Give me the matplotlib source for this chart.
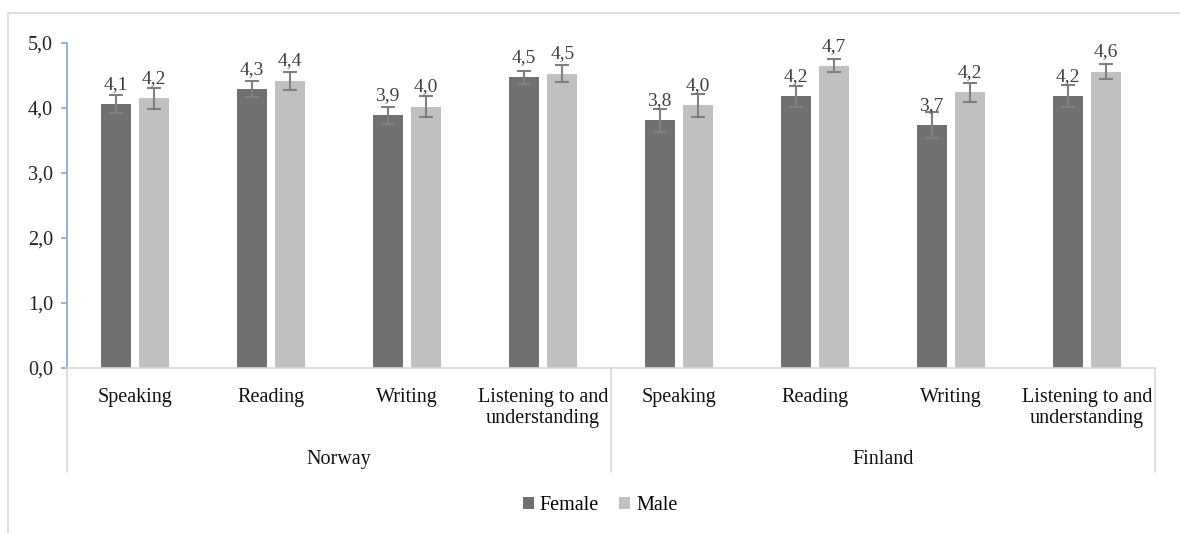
import matplotlib

matplotlib.use("Agg")
import matplotlib.pyplot as plt
from matplotlib.lines import Line2D
from matplotlib.patches import Patch, Rectangle
from matplotlib.ticker import FuncFormatter
import numpy as np

# Self-assessed skills by gender, two countries, four skills each.
countries = ["Norway", "Finland"]
skills = ["Speaking", "Reading", "Writing", "Listening to and\nunderstanding"]
female = [4.06, 4.29, 3.89, 4.47, 3.81, 4.18, 3.74, 4.18]
male = [4.15, 4.42, 4.02, 4.53, 4.04, 4.65, 4.24, 4.56]
female_err = [0.14, 0.12, 0.13, 0.10, 0.18, 0.16, 0.20, 0.17]
male_err = [0.16, 0.14, 0.16, 0.13, 0.18, 0.10, 0.15, 0.12]
series_labels = ["Female", "Male"]

FEMALE_COLOR = "#707070"
MALE_COLOR = "#c0c0c0"
ERR_COLOR = "#7f7f7f"
GRID_GREY = "#d9d9d9"
AXIS_BLUE = "#86acdc"
SERIF = ["Liberation Serif", "DejaVu Serif"]

plt.rcParams["font.family"] = SERIF

fig = plt.figure(figsize=(11.8, 5.33), dpi=100)
ax = fig.add_axes([67 / 1180, 1 - 368 / 533, (1155 - 67) / 1180, 325 / 533])

n_cat = len(countries) * len(skills)
x = np.arange(n_cat)
width = 0.22
offset = 0.142

err_kw = dict(ecolor=ERR_COLOR, elinewidth=1.5, capsize=4.7, capthick=1.5)
ax.bar(x - offset, female, width, color=FEMALE_COLOR, yerr=female_err,
       error_kw=err_kw, zorder=2)
ax.bar(x + offset, male, width, color=MALE_COLOR, yerr=male_err,
       error_kw=err_kw, zorder=2)

# data labels sit a fixed distance above the bar top (Excel "outside end")
for xs, vals in ((x - offset, female), (x + offset, male)):
    for xi, v in zip(xs, vals):
        ax.annotate(f"{v:.1f}".replace(".", ","), (xi, v), xytext=(0, 8),
                    textcoords="offset points", ha="center", va="bottom",
                    fontsize=14, color="#404040")

ax.set_xlim(-0.5, n_cat - 0.5)
ax.set_ylim(0, 5)
ax.set_yticks(np.arange(0, 6, 1))
ax.yaxis.set_major_formatter(FuncFormatter(lambda v, _: f"{v:.1f}".replace(".", ",")))
ax.tick_params(axis="y", direction="out", length=4, width=1.2, color=AXIS_BLUE,
               pad=6, labelsize=14.5, labelcolor="#222222")
ax.set_xticks([])

for side in ("top", "right"):
    ax.spines[side].set_visible(False)
ax.spines["left"].set_color(AXIS_BLUE)
ax.spines["left"].set_linewidth(1.3)
ax.spines["bottom"].set_color(GRID_GREY)
ax.spines["bottom"].set_linewidth(1.2)

# two-level category axis: skill names, then country names, with dividers
trans = ax.get_xaxis_transform()
for xi in x:
    ax.text(xi, -0.062, skills[xi % len(skills)], transform=trans, ha="center",
            va="top", fontsize=14.5, linespacing=1.15, color="#111111")
for ci, country in enumerate(countries):
    center = ci * len(skills) + (len(skills) - 1) / 2
    ax.text(center, -0.283, country, transform=trans, ha="center", va="center",
            fontsize=14.5, color="#111111")
for ci in range(len(countries) + 1):
    xd = ci * len(skills) - 0.5
    ax.add_line(Line2D([xd, xd], [0, -0.32], transform=trans, color=GRID_GREY,
                       lw=1.2, clip_on=False))

handles = [Patch(facecolor=FEMALE_COLOR, label=series_labels[0]),
           Patch(facecolor=MALE_COLOR, label=series_labels[1])]
fig.legend(handles=handles, loc="center", bbox_to_anchor=(600 / 1180, 1 - 506 / 533),
           ncol=2, frameon=False, fontsize=14.5, handlelength=0.55, handleheight=0.55,
           handletextpad=0.3, columnspacing=1.0)

# outer chart frame, cut off at right and bottom edges
fig.add_artist(Rectangle((8 / 1180, -0.1), 1.2, 1.1 - 13 / 533, fill=False,
                         edgecolor=GRID_GREY, lw=1.2, transform=fig.transFigure))

fig.savefig("out.png", dpi=100)
